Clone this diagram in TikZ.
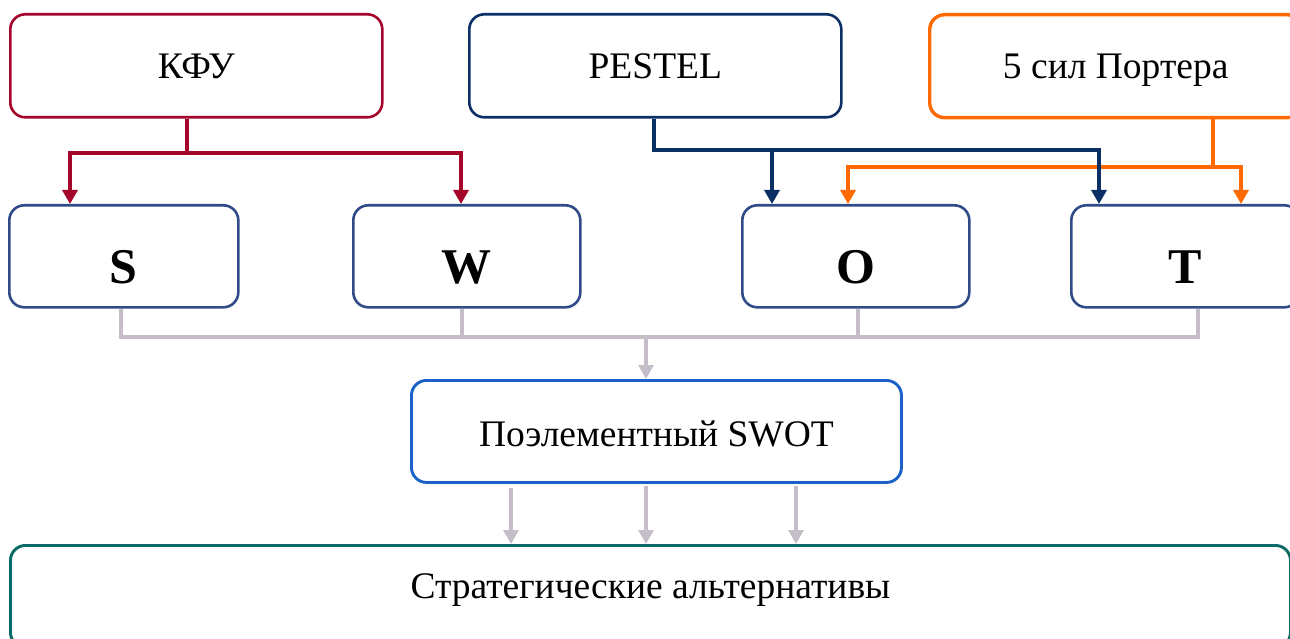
\documentclass[tikz,border=0pt]{standalone}
\usepackage{fontspec}
\setmainfont{Liberation Serif}
\usetikzlibrary{arrows.meta}
\definecolor{cred}{RGB}{166,5,43}
\definecolor{cnavy}{RGB}{12,47,102}
\definecolor{corange}{RGB}{255,106,0}
\definecolor{cbox}{RGB}{47,76,136}
\definecolor{cgray}{RGB}{197,190,201}
\definecolor{cblue}{RGB}{26,98,200}
\definecolor{cteal}{RGB}{11,106,102}
\tikzset{
  box/.style={draw, rounded corners=15pt, anchor=north west, inner sep=0pt,
    line width=2.6pt, font=\fontsize{37.5}{40}\selectfont, text height=30pt, text depth=5.5pt},
  letterbox/.style={box, draw=cbox, minimum width=228pt, minimum height=102pt,
    font=\fontsize{50}{54}\selectfont\bfseries, text height=54pt, text depth=0pt},
  tip/.style={-{Triangle[width=15pt,length=14pt]}},
  twotip/.style={{Triangle[width=15pt,length=14pt]}-{Triangle[width=15pt,length=14pt]}},
  conn/.style={line width=3.4pt},
  grayconn/.style={line width=4pt, draw=cgray},
}
\begin{document}
\begin{tikzpicture}[x=1pt,y=-1pt]
\useasboundingbox (0,0) rectangle (1290,639);
\clip (0,0) rectangle (1290,639);
% top boxes
\node[box, draw=cred, minimum width=372pt, minimum height=103pt] (kfu) at (9,13) {КФУ};
\node[box, draw=cnavy, minimum width=372pt, minimum height=103pt] (pestel) at (468,13) {PESTEL};
\node[box, draw=corange, line width=3.4pt, minimum width=372pt, minimum height=103pt] (porter) at (928,13) {5 сил Портера};
% SWOT letters
\node[letterbox, minimum width=229pt] (s) at (8,204) {S};
\node[letterbox, minimum width=227pt] (w) at (352,204) {W};
\node[letterbox, minimum width=227pt] (o) at (741,204) {O};
\node[letterbox] (t) at (1070,204) {T};
% lower boxes
\node[box, draw=cblue, line width=2.9pt, minimum width=490pt, minimum height=102pt, text height=32pt, text depth=1.5pt] (swot) at (410,379) {Поэлементный SWOT};
\node[box, draw=cteal, line width=2.9pt, minimum width=1280pt, minimum height=102pt, text height=20pt, text depth=15.5pt] (alt) at (9,544) {Стратегические альтернативы};
% coordinates
\coordinate (kr) at (187,153);
\coordinate (krl) at (70,153);
\coordinate (krr) at (461,153);
\coordinate (nv) at (654,150);
\coordinate (nvo) at (772,150);
\coordinate (nvt) at (1099,150);
\coordinate (orv) at (1213,167);
\coordinate (orl) at (848,167);
\coordinate (orr) at (1241,167);
\coordinate (g1) at (121,337);
\coordinate (g2) at (462,337);
\coordinate (g3) at (858,337);
\coordinate (g4) at (1198,337);
\coordinate (gm) at (646,337);
\coordinate (b1) at (511,0);
\coordinate (b2) at (646,0);
\coordinate (b3) at (796,0);
% red
\draw[conn, draw=cred] (kfu.south -| kr) -- (kr);
\draw[conn, draw=cred, twotip] (s.north -| krl) -- (krl) -- (krr) -- (w.north -| krr);
% orange
\draw[conn, draw=corange] (porter.south -| orv) -- (orv);
\draw[conn, draw=corange, twotip] (o.north -| orl) -- (orl) -- (orr) -- (t.north -| orr);
% navy
\draw[conn, draw=cnavy, tip] (pestel.south -| nv) -- (nv) -- (nvt) -- (t.north -| nvt);
\draw[conn, draw=cnavy, tip] (nvo) -- (o.north -| nvo);
% gray
\draw[grayconn] (s.south -| g1) -- (g1) -- (g4) -- (t.south -| g4);
\draw[grayconn] (w.south -| g2) -- (g2);
\draw[grayconn] (o.south -| g3) -- (g3);
\draw[grayconn, line width=3.2pt, tip] (gm) -- (swot.north -| gm);
\draw[grayconn, line width=3.2pt, tip] ([yshift=-4pt]swot.south -| b1) -- (alt.north -| b1);
\draw[grayconn, line width=3.2pt, tip] ([yshift=-2pt]swot.south -| b2) -- (alt.north -| b2);
\draw[grayconn, line width=3.2pt, tip] ([yshift=-2pt]swot.south -| b3) -- (alt.north -| b3);
\end{tikzpicture}
\end{document}
